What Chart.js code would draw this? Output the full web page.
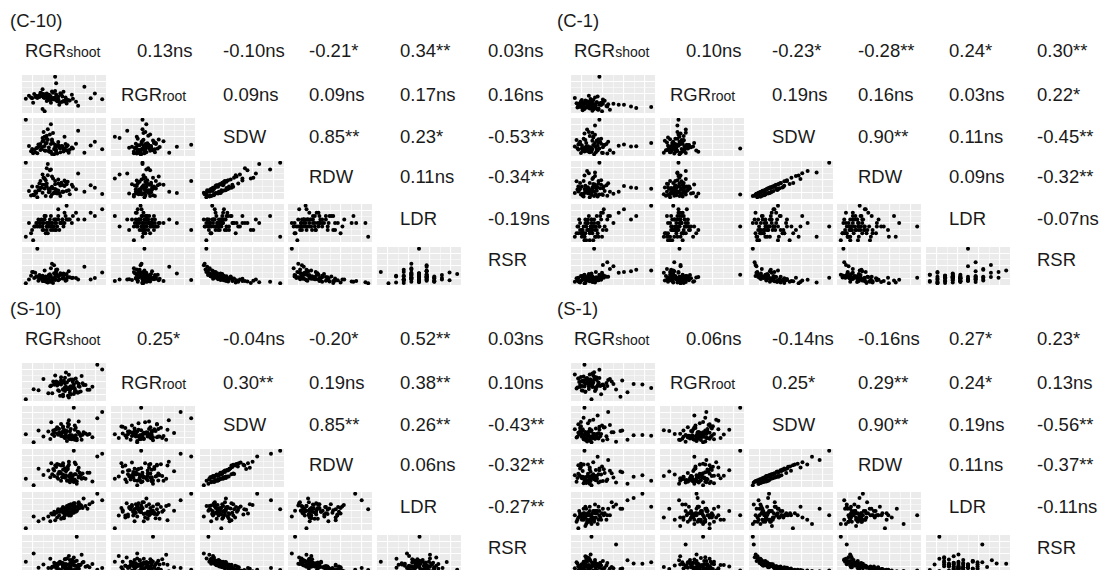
<!DOCTYPE html>
<html>
<head>
<meta charset="utf-8">
<script src="https://cdn.jsdelivr.net/npm/chart.js@4.4.1/dist/chart.umd.min.js"></script>
<style>
  body { margin: 0; width: 1102px; height: 570px; overflow: hidden; position: relative; background: #fff;
         font-family: "Liberation Sans", Arial, sans-serif; color: #1a1a1a; }
  .lbl { position: absolute; font-size: 18.5px; line-height: 20px; white-space: nowrap; }
  .lbl small { font-size: 14px; }
  canvas.cell { position: absolute; background: #ebebeb; }
</style>
</head>
<body>
<script>
// Variable names (main part, subscript part)
const varLabels = [['RGR', 'shoot'], ['RGR', 'root'], ['SDW'], ['RDW'], ['LDR'], ['RSR']];
const panelTitles = ['(C-10)', '(C-1)', '(S-10)', '(S-1)'];

// Correlation labels, upper triangle, row by row
const c10Corr = ['0.13ns', '-0.10ns', '-0.21*', '0.34**', '0.03ns',
                 '0.09ns', '0.09ns', '0.17ns', '0.16ns',
                 '0.85**', '0.23*', '-0.53**',
                 '0.11ns', '-0.34**',
                 '-0.19ns'];
const c1Corr = ['0.10ns', '-0.23*', '-0.28**', '0.24*', '0.30**',
                '0.19ns', '0.16ns', '0.03ns', '0.22*',
                '0.90**', '0.11ns', '-0.45**',
                '0.09ns', '-0.32**',
                '-0.07ns'];
const s10Corr = ['0.25*', '-0.04ns', '-0.20*', '0.52**', '0.03ns',
                 '0.30**', '0.19ns', '0.38**', '0.10ns',
                 '0.85**', '0.26**', '-0.43**',
                 '0.06ns', '-0.32**',
                 '-0.27**'];
const s1Corr = ['0.06ns', '-0.14ns', '-0.16ns', '0.27*', '0.23*',
                '0.25*', '0.29**', '0.24*', '0.13ns',
                '0.90**', '0.19ns', '-0.56**',
                '0.11ns', '-0.37**',
                '-0.11ns'];

// ---- C-10 observations
const c10RgrShoot = [45,38,52,60,30,47,55,41,35,63, 48,28,40,57,44,50,33,66,42,37, 53,46,25,39,58,49,70,36,43,51, 31,62,45,54,40,88,47,34,59,43, 50,27,38,56,64,41,78,48,32,53, 44,39,61,46,95,36,51,42,57,22, 50,35,58,42,67,47,29,53,44,61, 38,49,72,40,55,46,33,59,51,84];
const c10RgrRoot = [42,50,38,47,55,44,36,52,48,40, 58,45,15,49,41,95,46,53,39,57, 43,35,51,47,60,42,37,54,45,80, 48,41,52,30,46,56,43,50,38,44, 62,47,20,53,40,49,72,45,51,39, 46,55,33,48,43,58,41,50,37,44, 47,52,39,56,44,61,35,49,53,42, 66,46,28,51,57,43,48,38,54,45];
const c10Sdw = [12,25,8,33,18,41,22,15,29,10, 36,20,52,27,14,31,9,24,47,19, 38,13,28,65,21,6,34,17,44,26, 11,30,58,23,16,39,7,32,20,72, 25,14,49,28,18,35,10,62,22,30, 15,42,26,85,19,33,12,55,24,97, 18,27,13,36,21,45,9,30,24,16, 40,20,68,28,11,33,23,52,17,29];
const c10Rdw = [20,16,14,42,10,30,33,8,38,22, 26,31,50,18,24,44,5,35,38,28, 48,7,20,52,34,16,24,28,58,15, 19,42,70,14,26,28,12,22,32,85, 36,9,60,40,12,46,18,50,15,21, 24,52,36,72,13,44,21,75,18,88, 25,22,18,31,30,55,11,38,17,20, 35,15,62,35,8,27,30,45,23,34];
const c10Ldr = [59,32,41,68,41,50,50,23,50,59, 41,32,68,59,50,32,50,50,41,59, 68,41,50,32,41,59,77,50,23,50, 41,59,50,32,59,68,41,59,77,50, 50,23,41,50,59,68,59,32,50,86, 41,50,59,68,86,41,32,50,59,14, 59,41,50,32,68,50,5,59,41,95, 50,41,59,68,50,32,41,50,59,77];
const c10Rsr = [32,28,45,15,22,19,35,26,24,40, 20,38,14,30,27,17,100,22,12,25, 26,48,18,15,31,56,22,20,10,34, 36,25,13,19,42,22,60,15,30,11, 20,28,18,33,24,13,52,9,27,16, 30,21,17,12,37,24,44,14,21,8, 26,30,34,19,23,16,38,28,20,33, 14,35,18,21,30,27,25,20,40,18];

// ---- C-1 observations
const c1RgrShoot = [22,30,15,35,27,18,40,25,12,33, 28,20,45,31,8,26,38,17,29,23, 52,14,34,24,19,42,27,10,36,21, 30,16,48,25,32,13,39,22,28,58, 18,35,26,44,20,31,11,37,24,72, 29,17,41,23,33,78,19,27,95,36, 26,14,32,21,38,17,29,24,46,19, 34,12,28,23,40,31,16,64,27,20];
const c1RgrRoot = [40,35,48,30,44,38,52,33,42,46, 28,50,37,41,55,34,45,39,31,47, 43,36,58,40,32,49,38,44,100,35, 42,51,30,46,39,43,27,48,36,41, 45,33,53,38,47,40,35,44,60,37, 42,31,49,39,46,34,43,50,36,41, 38,44,33,47,40,29,51,36,42,45, 31,39,48,35,43,56,37,41,34,46];
const c1Sdw = [15,28,10,36,20,45,24,12,31,18, 40,22,9,55,26,14,33,19,48,27, 11,38,16,62,23,30,13,42,21,35, 7,29,17,52,25,34,11,68,20,28, 15,44,24,32,18,78,22,37,13,26, 50,19,30,16,41,27,58,21,35,92, 20,33,12,26,45,17,30,23,38,14, 28,19,60,24,10,35,21,31,16,42];
const c1Rdw = [20,22,15,43,14,50,31,8,36,25, 33,28,12,63,19,20,40,13,42,34, 17,45,10,70,29,24,19,49,15,28, 11,36,22,45,31,27,16,76,26,22, 10,50,18,39,24,72,28,31,18,33, 58,14,36,22,35,32,64,27,30,97, 25,29,16,20,52,12,35,29,44,19, 33,23,55,19,14,41,17,37,21,38];
const c1Ldr = [45,60,40,35,55,50,45,30,50,65, 40,55,60,45,35,50,70,45,30,60, 55,45,40,65,35,50,60,40,50,30, 55,45,65,40,50,60,35,55,45,70, 40,55,50,45,60,35,50,65,45,60, 50,40,75,55,45,65,35,60,80,50, 45,55,35,50,60,40,50,45,65,30, 55,40,50,45,70,50,35,75,45,40];
const c1Rsr = [24,24,30,20,28,22,32,33,16,26, 18,22,65,25,15,28,27,25,15,21, 55,13,26,18,23,30,30,24,33,17, 100,19,48,16,26,14,38,20,29,38, 31,19,24,28,27,13,18,22,27,42, 17,26,25,22,20,46,11,28,44,25, 26,17,40,22,20,30,24,35,28,33, 19,25,14,30,58,16,28,40,36,12];

// ---- S-10 observations
const s10RgrShoot = [55,48,62,40,58,66,52,45,70,57, 35,60,50,73,54,42,63,49,80,56, 12,59,46,68,53,38,61,51,75,44, 58,65,30,55,47,64,52,85,57,41, 60,50,67,20,54,62,48,71,56,43, 59,66,52,37,63,90,50,57,45,61, 53,46,64,58,39,61,50,69,55,44, 60,25,57,48,66,52,62,41,56,77];
const s10RgrRoot = [48,55,42,60,38,52,66,45,57,50, 40,63,35,54,47,70,44,58,51,62, 30,49,56,43,75,53,39,61,46,57, 52,41,64,48,36,59,50,88,45,55, 62,38,51,47,58,43,67,54,33,60, 49,56,44,52,65,80,46,41,58,50, 51,44,58,63,40,55,47,69,36,53, 59,45,50,62,42,57,48,55,71,46];
const s10Sdw = [25,32,18,40,28,35,22,45,30,20, 38,26,50,33,15,42,29,36,24,55, 31,19,44,27,34,60,23,39,30,48, 21,37,26,58,33,17,41,70,28,35, 24,46,31,12,39,52,27,36,22,43, 29,62,34,20,47,85,26,38,30,95, 28,35,21,44,31,26,38,18,49,33, 24,40,29,56,36,23,42,27,65,32];
const s10Rdw = [20,38,22,50,22,27,31,37,38,14, 46,19,66,24,18,60,36,28,16,62, 24,28,62,33,44,66,15,30,40,64, 28,47,34,50,42,10,52,84,20,46, 32,60,40,6,48,68,18,26,30,56, 22,54,27,28,63,92,35,30,24,100, 33,42,17,38,36,20,48,24,57,28, 19,51,34,60,30,27,36,31,70,40];
const s10Ldr = [58,35,55,45,42,70,50,55,58,63, 40,48,58,62,62,32,50,52,70,44, 15,55,42,64,52,46,68,36,56,50, 45,60,35,54,50,52,57,88,46,44, 65,38,58,40,47,61,53,78,42,48, 50,66,42,30,60,74,48,58,52,55, 57,50,52,66,44,48,60,62,53,38, 61,30,49,55,57,45,68,50,64,66];
const s10Rsr = [30,34,38,26,28,20,44,18,36,33, 22,40,24,25,46,30,28,35,32,15, 38,42,19,30,24,22,48,31,27,26, 36,24,31,14,38,100,20,18,42,26, 35,28,29,58,20,16,33,37,52,22, 40,20,27,45,18,22,34,25,31,17, 32,36,40,21,25,29,27,55,19,33, 38,23,26,17,30,44,28,35,14,24];

// ---- S-1 observations
const s1RgrShoot = [18,25,12,32,22,8,28,35,15,20, 40,26,10,30,23,45,17,33,27,14, 38,21,52,29,11,24,36,19,48,31, 16,26,60,22,34,13,42,28,20,68, 25,37,15,30,55,23,18,33,27,75, 21,39,29,16,46,24,85,32,19,95, 22,30,14,26,41,18,35,24,12,28, 50,20,33,17,44,25,31,62,23,36];
const s1RgrRoot = [65,58,72,50,68,80,55,62,75,45, 60,70,52,85,63,57,48,74,66,59, 40,69,61,78,54,64,90,56,71,47, 67,60,35,73,58,65,52,82,62,44, 70,57,66,76,50,63,68,55,30,61, 72,59,64,48,69,56,60,74,100,53, 62,70,55,67,58,76,64,51,72,60, 66,45,69,57,63,80,54,68,61,73];
const s1Sdw = [20,14,30,25,10,38,22,17,45,28, 12,33,19,26,52,15,35,23,8,41, 27,18,31,60,21,13,37,24,48,16, 29,11,34,20,70,26,43,18,32,14, 39,22,55,27,9,30,65,19,36,24, 16,47,28,21,78,33,25,40,88,23, 25,18,34,21,42,15,29,23,50,19, 31,13,27,38,22,58,17,35,26,44];
const s1Rdw = [26,10,36,19,15,32,30,13,54,24, 17,41,15,31,60,21,28,30,6,50, 34,14,26,66,25,19,45,18,44,22, 24,17,42,15,80,33,38,24,27,10, 47,16,62,31,13,36,60,23,30,28, 12,55,35,27,72,28,32,46,96,18, 29,22,30,26,48,11,35,20,58,24, 37,18,23,43,17,52,21,40,30,50];
const s1Ldr = [55,40,45,60,35,50,45,70,50,25, 65,50,35,40,55,50,45,55,30,50, 40,65,70,45,40,35,60,55,50,75, 45,50,65,50,30,60,55,40,70,85, 60,45,50,35,75,55,40,60,45,90, 30,55,60,40,65,50,100,45,50,70, 40,60,55,35,50,65,40,50,20,55, 80,45,60,50,40,70,55,65,35,50];
const s1Rsr = [28,42,25,22,48,20,33,30,18,29, 38,24,35,28,16,33,19,31,100,22, 27,38,20,14,32,46,24,22,19,35, 30,55,18,36,13,26,21,28,25,40, 20,34,16,30,80,21,14,26,23,32, 44,18,26,29,12,24,31,17,14,35, 26,30,22,38,18,36,24,28,15,33, 23,50,29,20,27,15,41,19,25,21];

const panels = [
  { title: panelTitles[0], corr: c10Corr, vars: [c10RgrShoot, c10RgrRoot, c10Sdw, c10Rdw, c10Ldr, c10Rsr] },
  { title: panelTitles[1], corr: c1Corr,  vars: [c1RgrShoot, c1RgrRoot, c1Sdw, c1Rdw, c1Ldr, c1Rsr] },
  { title: panelTitles[2], corr: s10Corr, vars: [s10RgrShoot, s10RgrRoot, s10Sdw, s10Rdw, s10Ldr, s10Rsr] },
  { title: panelTitles[3], corr: s1Corr,  vars: [s1RgrShoot, s1RgrRoot, s1Sdw, s1Rdw, s1Ldr, s1Rsr] }
];

// layout
const panelOrigin = [[0, 0], [549, 0], [0, 288], [549, 288]];
const cellLeft = c => 22 + c * 88.75;
const cellTop = r => 75 + (r - 1) * 43;
const cellW = 84, cellH = 38;
const textLeft = [25, 137, 223, 309, 400, 488];
const textMid = [51, 95, 137, 177, 219, 260];

function addText(html, x, yMid) {
  const d = document.createElement('div');
  d.className = 'lbl';
  d.innerHTML = html;
  d.style.left = x + 'px';
  d.style.top = (yMid - 10) + 'px';
  document.body.appendChild(d);
}

function axis(vals, n) {
  const lo = Math.min(...vals), hi = Math.max(...vals), pad = (hi - lo) * 0.05;
  return {
    min: lo - pad, max: hi + pad,
    ticks: { display: false, count: n },
    border: { display: false },
    grid: {
      drawTicks: false,
      color: c => (c.index === 0 || c.index === n - 1) ? 'rgba(0,0,0,0)' : '#ffffff',
      lineWidth: c => c.index % 2 ? 1.1 : 0.5
    },
    afterFit: s => { if (s.isHorizontal()) s.height = 0; else s.width = 0; }
  };
}

function scatterCell(x, y, xs, ys) {
  const cv = document.createElement('canvas');
  cv.className = 'cell';
  cv.width = cellW; cv.height = cellH;
  cv.style.left = x + 'px';
  cv.style.top = y + 'px';
  document.body.appendChild(cv);
  new Chart(cv, {
    type: 'scatter',
    data: {
      datasets: [{
        data: xs.map((v, i) => ({ x: v, y: ys[i] })),
        pointRadius: 2,
        pointBackgroundColor: '#000',
        pointBorderWidth: 0
      }]
    },
    options: {
      responsive: false,
      animation: false,
      events: [],
      layout: { padding: 0, autoPadding: false },
      plugins: { legend: { display: false }, tooltip: { enabled: false } },
      scales: { x: axis(xs, 9), y: axis(ys, 7) }
    }
  });
}

panels.forEach((p, k) => {
  const [ox, oy] = panelOrigin[k];
  addText(p.title, ox + 10 - (k % 2) * 2, oy + 21);
  let ci = 0;
  for (let r = 0; r < 6; r++) {
    for (let c = 0; c < 6; c++) {
      if (c < r) {
        scatterCell(ox + cellLeft(c), oy + cellTop(r), p.vars[c], p.vars[r]);
      } else if (c === r) {
        const lab = varLabels[r];
        const html = lab[0] + (lab[1] ? '<small>' + lab[1] + '</small>' : '');
        const x = r === 0 ? textLeft[0] : (r === 1 ? 121 : textLeft[c]);
        addText(html, ox + x, oy + textMid[r]);
      } else {
        addText(p.corr[ci++], ox + textLeft[c], oy + textMid[r]);
      }
    }
  }
});
</script>
</body>
</html>
